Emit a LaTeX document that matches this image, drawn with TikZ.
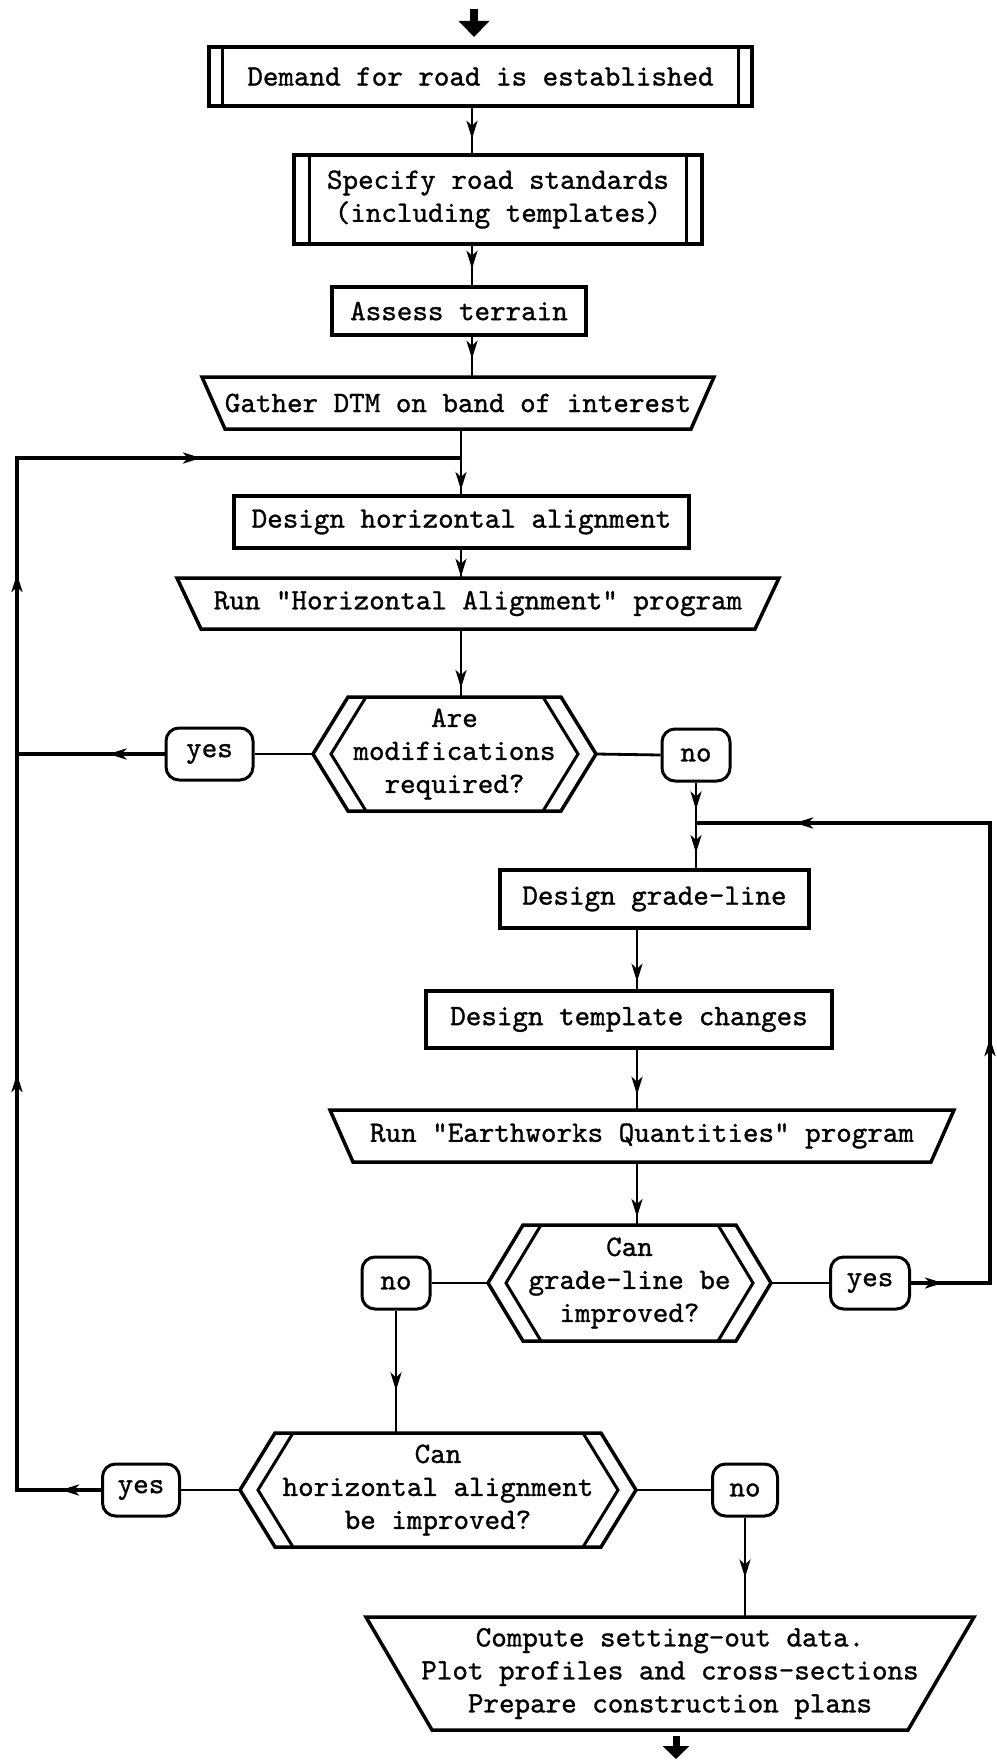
\documentclass[tikz,border=0pt]{standalone}
\usepackage{fontspec}
\usetikzlibrary{arrows.meta,decorations.markings,calc}
\newfontfamily\flowfam{lmmono10-regular}[Extension=.otf, FakeBold=1.0]
\newcommand\flowfont{\flowfam\fontsize{29.6}{33}\selectfont}
\newcommand\flowtip{\arrow{Stealth[length=18pt,width=11pt,inset=5pt]}}
\tikzset{
  boxline/.style={line width=3.5pt, line join=miter},
  innerline/.style={line width=3pt},
  proc/.style={draw, boxline, inner sep=0pt, font=\flowfont, align=center},
  shapeonly/.style={inner sep=0pt, outer sep=0pt, font=\flowfont, align=center},
  term/.style={draw, line width=3pt, rounded corners=13pt, inner sep=0pt, minimum height=52pt, font=\flowfont},
  conn/.style={line width=2.8pt},
  loopline/.style={line width=4.2pt},
  arrowat/.style={postaction={decorate}, decoration={markings, mark=at position #1 with {\flowtip}}},
}
\newcommand\decshape[1]{%
  \draw[boxline] (#1.west) -- ([xshift=35pt]#1.north west) -- ([xshift=-35pt]#1.north east) -- (#1.east) -- ([xshift=-35pt]#1.south east) -- ([xshift=35pt]#1.south west) -- cycle;
  \draw[innerline] ([xshift=53pt]#1.north west) -- ([xshift=18pt]#1.west) -- ([xshift=53pt]#1.south west);
  \draw[innerline] ([xshift=-53pt]#1.north east) -- ([xshift=-18pt]#1.east) -- ([xshift=-53pt]#1.south east);}
\newcommand\manualshape[2]{%
  \draw[boxline] (#1.north west) -- (#1.north east) -- ([xshift=-#2pt]#1.south east) -- ([xshift=#2pt]#1.south west) -- cycle;}
\begin{document}
\begin{tikzpicture}[x=1pt,y=-1pt]
\useasboundingbox (0,0) rectangle (996,1760);
\fill[white] (0,0) rectangle (996,1760);

% nodes
\node[proc, minimum width=543pt, minimum height=59pt] (b1) at (480.5,76.5) {Demand for road is established};
\draw[innerline] ([xshift=15pt]b1.north west) -- ([xshift=15pt]b1.south west);
\draw[innerline] ([xshift=-15pt]b1.north east) -- ([xshift=-15pt]b1.south east);

\node[proc, minimum width=408pt, minimum height=89pt] (b2) at (498,199.5) {Specify road standards\\(including templates)};
\draw[innerline] ([xshift=17pt]b2.north west) -- ([xshift=17pt]b2.south west);
\draw[innerline] ([xshift=-17pt]b2.north east) -- ([xshift=-17pt]b2.south east);

\node[proc, minimum width=254pt, minimum height=48pt] (b3) at (459,311) {Assess terrain};

\node[shapeonly, minimum width=512pt, minimum height=52pt] (t1) at (458,403) {Gather DTM on band of interest};
\manualshape{t1}{23}

\node[proc, minimum width=455pt, minimum height=52pt] (b4) at (461.5,522) {Design horizontal alignment};

\node[shapeonly, minimum width=602pt, minimum height=51pt] (t2) at (478,603.5) {Run "Horizontal Alignment" program};
\manualshape{t2}{24}

\node[shapeonly, minimum width=283pt, minimum height=114pt] (d1) at (454.5,754) {Are\\modifications\\required?};
\decshape{d1}
\node[term, minimum width=87pt] (y1) at (209.5,754) {yes};
\node[term, minimum width=68pt] (n1) at (696,755) {no};

\node[proc, minimum width=309pt, minimum height=58pt] (b5) at (654.5,899) {Design grade-line};
\node[proc, minimum width=406pt, minimum height=57pt] (b6) at (629,1019.5) {Design template changes};

\node[shapeonly, minimum width=624pt, minimum height=52pt] (t3) at (642,1136) {Run "Earthworks Quantities" program};
\manualshape{t3}{23}

\node[shapeonly, minimum width=283pt, minimum height=116pt] (d2) at (629.5,1283) {Can\\grade-line be\\improved?};
\decshape{d2}
\node[term, minimum width=79pt] (y2) at (870,1283) {yes};
\node[term, minimum width=68pt] (n2) at (396,1283) {no};

\node[shapeonly, minimum width=396pt, minimum height=114pt] (d3) at (438,1490) {Can\\horizontal alignment\\be improved?};
\decshape{d3}
\node[term, minimum width=77pt] (y3) at (141,1490) {yes};
\node[term, minimum width=65pt] (n3) at (745,1490) {no};

\node[shapeonly, minimum width=608pt, minimum height=113pt] (t4) at (670,1673.5) {Compute setting-out data.\\Plot profiles and cross-sections\\Prepare construction plans};
\manualshape{t4}{66}

% helper coordinates
\coordinate (xA) at (472,0);
\coordinate (xB) at (461,0);
\coordinate (xC) at (637,0);
\coordinate (LX) at (17,0);
\coordinate (RX) at (990,0);
\coordinate (J0) at (461,458);
\coordinate (J1) at (696,823);
\coordinate (topA) at (474,9);
\coordinate (topB) at (474,37);
\coordinate (botA) at (676,1736);
\coordinate (botB) at (676,1759);

% fat in/out arrows
\draw[line width=8pt, -{Triangle[length=16pt,width=30pt]}] (topA) -- (topB);
\draw[line width=7pt, -{Triangle[length=13pt,width=26pt]}] (botA) -- (botB);

% main column
\draw[conn, arrowat=31pt] (b1.south -| xA) -- (b2.north -| xA);
\draw[conn, arrowat=23pt] (b2.south -| xA) -- (b3.north -| xA);
\draw[conn, arrowat=22pt] (b3.south -| xA) -- (t1.north -| xA);
\draw[conn, arrowat=61pt] (t1.south -| xB) -- (b4.north -| xB);
\draw[conn, arrowat=27pt] (b4.south -| xB) -- (t2.north -| xB);
\draw[conn, arrowat=59pt] (t2.south -| xB) -- (d1.north -| xB);

% decision 1
\draw[conn] (d1.west) -- (y1.east);
\draw[conn] (d1.east) -- (n1.west);
\draw[loopline, arrowat=56pt] (y1.west) -- (y1.west -| LX);
\draw[conn, arrowat=27pt] (n1.south) -- (J1);
\draw[conn, arrowat=30pt] (J1) -- (b5.north -| J1);

% right column
\draw[conn, arrowat=52pt] (b5.south -| xC) -- (b6.north -| xC);
\draw[conn, arrowat=45pt] (b6.south -| xC) -- (t3.north -| xC);
\draw[conn, arrowat=55pt] (t3.south -| xC) -- (d2.north -| xC);

% decision 2
\draw[conn] (d2.east) -- (y2.west);
\draw[conn] (d2.west) -- (n2.east);
\draw[loopline, postaction={decorate}, decoration={markings,
    mark=at position 32pt with {\flowtip},
    mark=at position 324pt with {\flowtip},
    mark=at position 734pt with {\flowtip}}]
  (y2.east) -- (y2.east -| RX) -- (RX |- J1) -- (J1);
\draw[conn, arrowat=80pt] (n2.south) -- (d3.north -| n2.south);

% decision 3
\draw[conn] (d3.west) -- (y3.east);
\draw[conn] (d3.east) -- (n3.west);
\draw[loopline, postaction={decorate}, decoration={markings,
    mark=at position 40pt with {\flowtip},
    mark=at position 500pt with {\flowtip},
    mark=at position 1000pt with {\flowtip},
    mark=at position 1300pt with {\flowtip}}]
  (y3.west) -- (y3.west -| LX) -- (LX |- J0) -- (J0);
\draw[conn, arrowat=60pt] (n3.south) -- (t4.north -| n3.south);
\end{tikzpicture}
\end{document}
